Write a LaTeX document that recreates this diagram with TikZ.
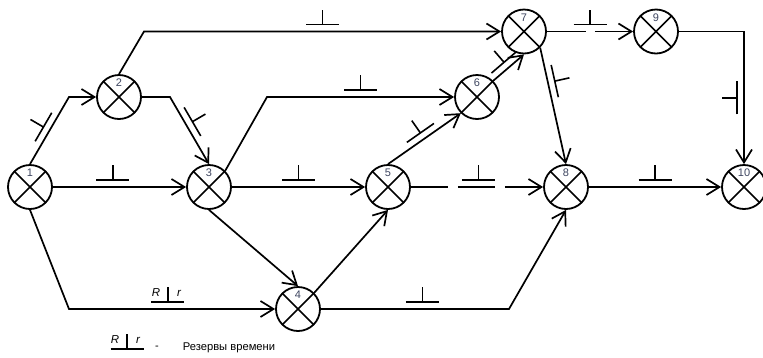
\documentclass[tikz,border=0pt]{standalone}
\usepackage{fontspec}
\setmainfont{Liberation Sans}
\usetikzlibrary{arrows.meta,calc}
\definecolor{numc}{RGB}{60,68,95}
\begin{document}
\begin{tikzpicture}[x=1pt,y=-1pt,
  line width=1.7pt,
  ev/.style={draw, circle, minimum size=44pt, inner sep=0pt, line width=1.8pt,
     path picture={\draw[line width=1.7pt] (path picture bounding box.north west) -- (path picture bounding box.south east) (path picture bounding box.north east) -- (path picture bounding box.south west);},
     label={[inner sep=0pt, label distance=-13.5pt, text=numc, font=\fontsize{11}{13}\selectfont]above:#1}},
  arr/.style={-{Straight Barb[length=13pt,width=16pt]}},
  lett/.style={inner sep=0pt, font=\fontsize{11.5}{13}\selectfont\itshape},
  resv/.pic={\draw[-,solid,line width=1.6pt] (-16.5,-7) -- (16.5,-7) (0,-7) -- (0,-22);},
  resvR/.pic={\draw[-,solid,line width=1.6pt] (-16.5,-7) -- (16.5,-7) (0,-7) -- (0,-22);
     \node[lett] (-R) at (-12,-16) {R};
     \node[lett] (-r) at (11,-16) {r};},
]
\useasboundingbox (0,0) rectangle (763,357);

\node[ev=1] (n1) at (30,187) {};
\node[ev=2] (n2) at (119,97) {};
\node[ev=3] (n3) at (209,187) {};
\node[ev=4] (n4) at (298,309) {};
\node[ev=5] (n5) at (388,187) {};
\node[ev=6] (n6) at (477,97) {};
\node[ev=7] (n7) at (524,31.5) {};
\node[ev=8] (n8) at (566,187) {};
\node[ev=9] (n9) at (656,31.5) {};
\node[ev=10] (n10) at (744,187) {};

\coordinate (c12) at (69,97);
\coordinate (c14) at (69,309);
\coordinate (c27) at (144,31.5);
\coordinate (c23) at (170,97);
\coordinate (c36) at (267,97);
\coordinate (c48) at (509,309);
\coordinate (c910) at (744,31.5);

\draw[arr] (n1.north) -- pic[pos=.5,sloped]{resv} (c12) -- (n2.west);
\draw[arr] (n1.east) -- pic[pos=.45]{resv} (n3.west);
\draw[arr] (n1.south) -- (c14) -- pic[pos=.48] (r14) {resvR} (n4.west);
\draw[arr] (n2.north) -- (c27) -- pic[pos=.5]{resv} (n7.west);
\draw[arr] (n2.east) -- (c23) -- pic[pos=.42,sloped]{resv} (n3.north);
\draw[arr] (n3.north east) -- (c36) -- pic[pos=.5]{resv} (n6.west);
\draw[arr] (n3.east) -- pic[pos=.5]{resv} (n5.west);
\draw[arr] (n3.south) -- (n4.north);
\draw[arr] (n4.north east) -- (n5.south);
\draw[arr] (n4.east) -- pic[pos=.54]{resv} (c48) -- (n8.south);
\draw[arr] (n5.north) -- pic[pos=.5,sloped]{resv} (n6.south west);
\draw[arr,dash pattern=on 37pt off 10pt] (n5.east) -- pic[pos=.51]{resv} (n8.west);
\draw[arr] (n6.north east) -- pic[pos=.5,sloped]{resv} (n7.south);
\draw[arr,dash pattern=on 39pt off 9pt] (n7.east) -- pic[pos=.5]{resv} (n9.west);
\draw[arr] (n7.south east) -- pic[pos=.3,sloped]{resv} (n8.north);
\draw[arr] (n8.east) -- pic[pos=.5]{resv} (n10.west);
\draw[arr] (n9.east) -- (c910) -- pic[pos=.5,rotate=90]{resv} (n10.north);

\pic (leg) at (127,356) {resvR};
\node[inner sep=0pt, font=\fontsize{11}{13}\selectfont] (dash) at (157,348) {-};
\node[inner sep=0pt, anchor=west, font=\fontsize{11.2}{13}\selectfont] (legtxt) at (182,348) {Резервы времени};
\end{tikzpicture}
\end{document}
